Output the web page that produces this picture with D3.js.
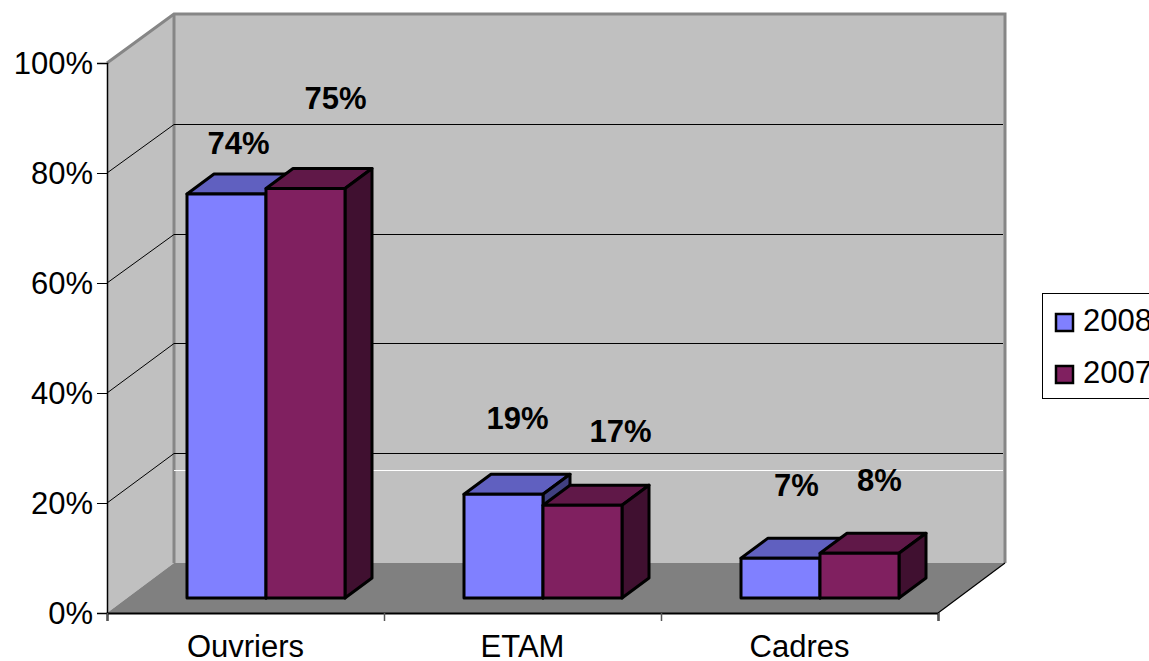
<!DOCTYPE html>
<html>
<head>
<meta charset="utf-8">
<script src="https://cdn.jsdelivr.net/npm/d3@7"></script>
<style>
  html, body { margin: 0; padding: 0; background: #fff; overflow: hidden; }
  text { font-family: "Liberation Sans", Arial, sans-serif; fill: #000; }
</style>
</head>
<body>
<script>
const categories = ["Ouvriers", "ETAM", "Cadres"];
const seriesNames = ["2008", "2007"];
const values2008 = [0.74, 0.19, 0.073];
const values2007 = [0.75, 0.17, 0.082];
const yTicks = [0, 0.2, 0.4, 0.6, 0.8, 1];

const width = 1149, height = 661;
const plot = {left: 107, right: 938, top: 63, bottom: 613};
const wallDx = 67;                 // back wall offset
const barDx = 27, barDy = -20;     // depth of one bar
const fontSize = 31;

const colors = {
  "2008": {front: "#8080ff", top: "#6060c0", side: "#404080"},
  "2007": {front: "#802060", top: "#601848", side: "#401030"}
};

const svg = d3.select("body").append("svg")
  .attr("width", width)
  .attr("height", height)
  .style("display", "block");

const x = d3.scaleBand().domain(categories).range([plot.left, plot.right]);
const xEdges = d3.scaleLinear().domain([0, 3]).range([plot.left, plot.right]);
const xSeries = d3.scaleBand().domain(seriesNames).range([80, 238]);
const y = d3.scaleLinear().domain([0, 1]).range([plot.bottom, plot.top]);
const yBack = d3.scaleLinear().domain([0, 1]).range([563, 14]);

const pts = a => a.map(p => p.join(",")).join(" ");
const backLeft = plot.left + wallDx, backRight = plot.right + wallDx;

// walls and floor
svg.append("rect")
  .attr("x", backLeft).attr("y", yBack(1))
  .attr("width", backRight - backLeft).attr("height", yBack(0) - yBack(1))
  .attr("fill", "#c0c0c0");
svg.append("polygon")
  .attr("points", pts([[plot.left, y(0)], [plot.left, y(1)], [backLeft, yBack(1)], [backLeft, yBack(0)]]))
  .attr("fill", "#c0c0c0");
svg.append("path")
  .attr("d", `M${plot.left},${y(1)}L${backLeft},${yBack(1)}H${backRight}V${yBack(0)}M${backLeft},${yBack(1)}V${yBack(0)}`)
  .attr("fill", "none")
  .attr("stroke", "#868686")
  .attr("stroke-width", 3);
svg.append("polygon")
  .attr("points", pts([[plot.left, y(0)], [plot.right, y(0)], [backRight, yBack(0)], [backLeft, yBack(0)]]))
  .attr("fill", "#808080");
svg.append("line")
  .attr("x1", plot.right).attr("y1", y(0))
  .attr("x2", backRight).attr("y2", yBack(0))
  .attr("stroke", "#000").attr("stroke-width", 1.2);

// gridlines on side and back wall
svg.append("g").selectAll("path")
  .data(yTicks.filter(d => d > 0 && d < 1))
  .join("path")
  .attr("d", d => `M${plot.left},${y(d)}L${backLeft},${Math.round(yBack(d)) + 0.5}H${backRight - 2}`)
  .attr("fill", "none")
  .attr("stroke", "#000")
  .attr("stroke-width", 1);

// stray white line of the original picture
svg.append("line")
  .attr("x1", backLeft).attr("x2", backRight - 2)
  .attr("y1", 470.5).attr("y2", 470.5)
  .attr("stroke", "#fff").attr("stroke-width", 1);

// axes
const yAxis = svg.append("g")
  .attr("transform", `translate(${plot.left},0)`)
  .call(d3.axisLeft(y).tickValues(yTicks).tickFormat(d3.format(".0%")).tickSize(10).tickPadding(4));
const xTicks = svg.append("g")
  .attr("transform", `translate(0,${plot.bottom})`)
  .call(d3.axisBottom(xEdges).tickValues([0, 1, 2, 3]).tickFormat("").tickSize(8));
const xAxis = svg.append("g")
  .attr("transform", `translate(0,${plot.bottom})`)
  .call(d3.axisBottom(x).tickSize(0).tickPadding(22));
xAxis.select(".domain").remove();
yAxis.selectAll("text").style("font-size", fontSize + "px").attr("dy", "0.33em");
xAxis.selectAll("text").style("font-size", fontSize + "px").style("font-family", "'Liberation Sans', Arial, sans-serif");
yAxis.style("font-family", "'Liberation Sans', Arial, sans-serif");
yAxis.select(".domain").attr("stroke-width", 1.5);
xTicks.select(".domain").attr("stroke-width", 2);
xTicks.selectAll(".tick line").attr("stroke", "#555").attr("stroke-width", 1.5);

// bars stand a little in front of the back wall, so their scale is slightly shorter
const rows = [];
categories.forEach((c, i) => {
  rows.push({cat: c, name: "2008", value: values2008[i]});
  rows.push({cat: c, name: "2007", value: values2007[i]});
});
const barBase = y(0) - 15;
const barY = d3.scaleLinear().domain([0, 1]).range([barBase, barBase - 546]);

const bar = svg.append("g").selectAll("g")
  .data(rows)
  .join("g")
  .attr("stroke", "#000")
  .attr("stroke-width", 3)
  .attr("stroke-linejoin", "round");

bar.each(function (d) {
  const g = d3.select(this);
  const x0 = x(d.cat) + xSeries(d.name), x1 = x0 + xSeries.bandwidth();
  const t = barY(d.value);
  g.append("polygon")
    .attr("points", pts([[x0, t], [x1, t], [x1 + barDx, t + barDy], [x0 + barDx, t + barDy]]))
    .attr("fill", colors[d.name].top);
  g.append("polygon")
    .attr("points", pts([[x1, t], [x1 + barDx, t + barDy], [x1 + barDx, barBase + barDy], [x1, barBase]]))
    .attr("fill", colors[d.name].side);
  g.append("rect")
    .attr("x", x0).attr("y", t)
    .attr("width", x1 - x0).attr("height", barBase - t)
    .attr("fill", colors[d.name].front);
});

// value labels sit wherever the original left them
const labelNudgeX = [12, 30, 14, 38, 16, 20];
const labelNudgeY = [-40, -80, -65, -63, -62, -62];
svg.append("g").selectAll("text")
  .data(rows)
  .join("text")
  .attr("x", (d, i) => x(d.cat) + xSeries(d.name) + xSeries.bandwidth() / 2 + labelNudgeX[i])
  .attr("y", (d, i) => barY(d.value) + labelNudgeY[i])
  .attr("text-anchor", "middle")
  .style("font-size", fontSize + "px")
  .style("font-weight", "bold")
  .text(d => d3.format(".0%")(d.value));

// legend, cut by the right edge as in the original
const legend = svg.append("g");
legend.append("rect")
  .attr("x", 1042.5).attr("y", 293.5)
  .attr("width", 130).attr("height", 105)
  .attr("fill", "#fff").attr("stroke", "#000").attr("stroke-width", 1);
const legendY = d3.scalePoint().domain(seriesNames).range([331, 383]);
const legendItem = legend.selectAll("g")
  .data(seriesNames)
  .join("g")
  .attr("transform", d => `translate(0,${legendY(d)})`);
legendItem.append("rect")
  .attr("x", 1056).attr("y", -17)
  .attr("width", 17).attr("height", 17)
  .attr("fill", d => colors[d].front)
  .attr("stroke", "#000").attr("stroke-width", 2.5);
legendItem.append("text")
  .attr("x", 1083)
  .style("font-size", fontSize + "px")
  .text(d => d);
</script>
</body>
</html>
